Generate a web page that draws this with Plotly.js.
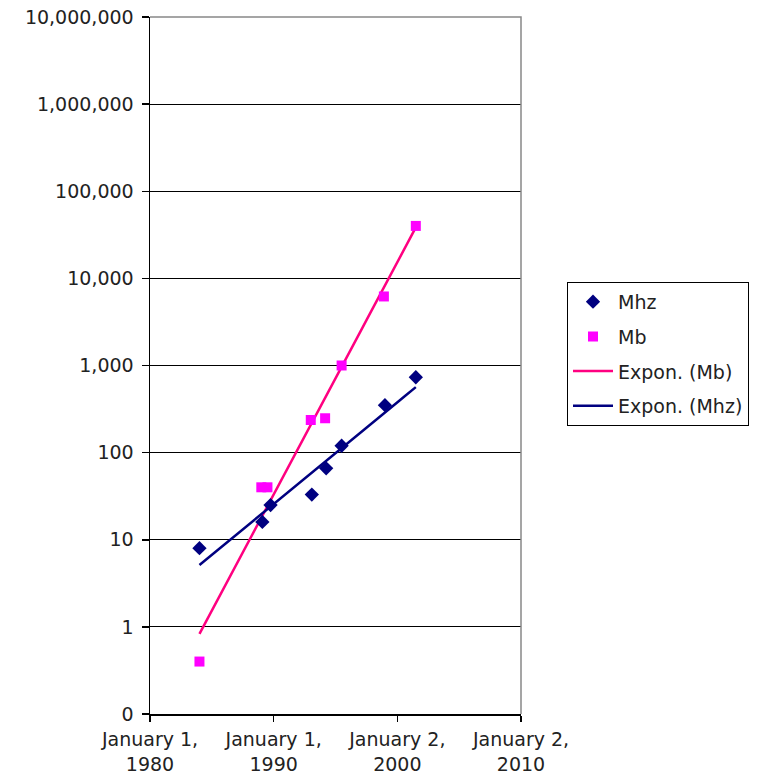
<!DOCTYPE html>
<html>
<head>
<meta charset="utf-8">
<script src="https://cdn.plot.ly/plotly-3.0.1.min.js"></script>
<style>html,body{margin:0;padding:0;background:#fff;}#chart{width:761px;height:775px;}</style>
</head>
<body>
<div id="chart"></div>
<script>
// Data
const mhzDates = ['1984-01-01','1989-02-01','1989-10-01','1993-02-01','1994-04-01','1995-07-01','1999-01-01','2001-07-01'];
const mhzValues = [8, 16, 25, 33, 66, 120, 350, 733];
const mbDates = ['1984-01-01','1989-01-01','1989-07-01','1993-01-01','1994-03-01','1995-07-01','1998-12-01','2001-07-01'];
const mbValues = [0.4, 40, 40, 237, 248, 1000, 6200, 40000];

const yTickVals = [0.1, 1, 10, 100, 1000, 10000, 100000, 1000000, 10000000];
const yTickText = ['0','1','10','100','1,000','10,000','100,000','1,000,000','10,000,000'];
const xTickVals = ['1980-01-01','1990-01-01','2000-01-02','2010-01-02'];
const xTickText = ['January 1,<br>1980','January 1,<br>1990','January 2,<br>2000','January 2,<br>2010'];

// Exponential trendline (least squares on log10 of values)
function expFit(dates, vals) {
  const t = dates.map(d => new Date(d + 'T00:00:00Z').getTime());
  const l = vals.map(v => Math.log10(v));
  const n = t.length;
  const mt = t.reduce((a, b) => a + b, 0) / n;
  const ml = l.reduce((a, b) => a + b, 0) / n;
  let sxy = 0, sxx = 0;
  for (let i = 0; i < n; i++) { sxy += (t[i] - mt) * (l[i] - ml); sxx += (t[i] - mt) * (t[i] - mt); }
  const b = sxy / sxx, a = ml - b * mt;
  const t0 = Math.min(...t), t1 = Math.max(...t);
  const xs = [], ys = [];
  const steps = 40;
  for (let k = 0; k <= steps; k++) {
    const tt = t0 + (t1 - t0) * k / steps;
    xs.push(new Date(tt).toISOString().slice(0, 10));
    ys.push(Math.pow(10, a + b * tt));
  }
  return {x: xs, y: ys};
}
const mbFit = expFit(mbDates, mbValues);
const mhzFit = expFit(mhzDates, mhzValues);

const FONT = {family: 'DejaVu Sans, sans-serif', size: 19, color: '#222'};

const trMhz = {x: mhzDates, y: mhzValues, name: 'Mhz', type: 'scatter', mode: 'markers',
   marker: {symbol: 'diamond', size: 11, color: '#000080'}, legendgroup: 'a', legendrank: 1, cliponaxis: false};
const trMb = {x: mbDates, y: mbValues, name: 'Mb', type: 'scatter', mode: 'markers',
   marker: {symbol: 'square', size: 10, color: '#FF00FF'}, legendgroup: 'b', legendrank: 2, cliponaxis: false};
const trMbFit = {x: mbFit.x, y: mbFit.y, name: 'Expon. (Mb)', type: 'scatter', mode: 'lines',
   line: {color: '#FF0080', width: 2.5}, legendgroup: 'c', legendrank: 3};
const trMhzFit = {x: mhzFit.x, y: mhzFit.y, name: 'Expon. (Mhz)', type: 'scatter', mode: 'lines',
   line: {color: '#000080', width: 2.5}, legendgroup: 'd', legendrank: 4};

// Lines drawn first so markers sit above them
const traces = [trMbFit, trMhzFit, trMhz, trMb];

const layout = {
  width: 761, height: 775,
  margin: {l: 150, r: 240, t: 17, b: 61},
  paper_bgcolor: '#fff', plot_bgcolor: '#fff',
  font: FONT,
  showlegend: true,
  hovermode: false,
  legend: {
    x: 1.124, y: 0.62, xanchor: 'left', yanchor: 'top',
    bgcolor: '#fff', bordercolor: '#000', borderwidth: 1,
    font: FONT, itemwidth: 40,
    traceorder: 'grouped', tracegroupgap: 7
  },
  xaxis: {
    type: 'date', range: ['1980-01-01', '2010-01-02'],
    tickmode: 'array', tickvals: xTickVals, ticktext: xTickText,
    ticks: 'outside', ticklen: 6, tickwidth: 1.5, tickcolor: '#000',
    ticklabelstandoff: 2,
    showline: true, linecolor: '#000', linewidth: 1.5,
    showgrid: false, zeroline: false,
    tickfont: FONT
  },
  yaxis: {
    type: 'log', range: [-1, 7],
    tickmode: 'array', tickvals: yTickVals, ticktext: yTickText,
    ticks: 'outside', ticklen: 7, tickwidth: 1.5, tickcolor: '#000',
    ticklabelstandoff: 4,
    showline: true, linecolor: '#000', linewidth: 1.5,
    showgrid: true, gridcolor: '#000', gridwidth: 1.2,
    zeroline: false,
    tickfont: FONT
  },
  shapes: [
    {type: 'path', xref: 'paper', yref: 'paper', path: 'M 0 1 L 1 1 L 1 0',
     line: {color: '#888', width: 1.5}, layer: 'above'}
  ]
};

Plotly.newPlot('chart', traces, layout, {displayModeBar: false, staticPlot: true});
</script>
</body>
</html>
